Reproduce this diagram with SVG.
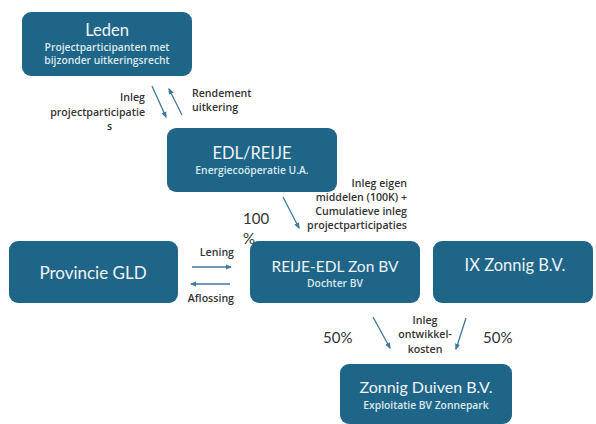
<svg xmlns="http://www.w3.org/2000/svg" width="596" height="424" viewBox="0 0 596 424">
<defs>
<marker id="ah" viewBox="0 0 10 10" refX="8" refY="5" markerWidth="5" markerHeight="5" orient="auto-start-reverse">
<path d="M0,1 L10,5 L0,9 z" fill="#3f7898"/>
</marker>
<style>
.box{fill:#1f6587;}
.t{font-family:"Lato","Liberation Sans",sans-serif;fill:#eef3f6;text-anchor:middle;}
.s{font-family:"Open Sans","Liberation Sans",sans-serif;fill:#dce8ef;text-anchor:middle;font-weight:600;font-size:10.3px;}
.l{font-family:"Open Sans","Liberation Sans",sans-serif;fill:#333;font-weight:600;font-size:10.6px;}
.p{font-family:"Lato","Liberation Sans",sans-serif;fill:#333;font-size:15px;}
.c{stroke:#3f7898;stroke-width:1.3;fill:none;marker-end:url(#ah);}
</style>
</defs>
<rect width="596" height="424" fill="#ffffff"/>
<g id="leden">
<rect class="box" x="22" y="12" width="170" height="64" rx="9"/>
<text class="t" x="107" y="36" font-size="16.5">Leden</text>
<text class="s" x="107" y="51">Projectparticipanten met</text>
<text class="s" x="107" y="64">bijzonder uitkeringsrecht</text>
</g>
<g id="edl">
<rect class="box" x="167" y="128" width="170" height="64" rx="9"/>
<text class="t" x="252" y="159" font-size="16.5">EDL/REIJE</text>
<text class="s" x="252" y="174">Energiecoöperatie U.A.</text>
</g>
<g id="provincie">
<rect class="box" x="9" y="241" width="169" height="62" rx="9"/>
<text class="t" x="93" y="279" font-size="17">Provincie GLD</text>
</g>
<g id="reije">
<rect class="box" x="250" y="241" width="170" height="62" rx="9"/>
<text class="t" x="335" y="272" font-size="15.5">REIJE-EDL Zon BV</text>
<text class="s" x="335" y="287">Dochter BV</text>
</g>
<g id="ix">
<rect class="box" x="433" y="241" width="160" height="62" rx="9"/>
<text class="t" x="515" y="271" font-size="16.5">IX Zonnig B.V.</text>
</g>
<g id="zonnig">
<rect class="box" x="340" y="364" width="172" height="60" rx="9"/>
<text class="t" x="426" y="393" font-size="16">Zonnig Duiven B.V.</text>
<text class="s" x="426" y="409">Exploitatie BV Zonnepark</text>
</g>
<g id="connectors">
<line class="c" x1="152" y1="86" x2="166" y2="117"/>
<line class="c" x1="182" y1="115" x2="169" y2="89"/>
<line class="c" x1="283" y1="197" x2="299" y2="228"/>
<line class="c" x1="192" y1="267" x2="231" y2="267"/>
<line class="c" x1="230" y1="284" x2="191" y2="284"/>
<line class="c" x1="373" y1="317" x2="390" y2="348"/>
<line class="c" x1="466" y1="318" x2="456" y2="349"/>
</g>
<g id="labels">
<text class="l" x="145" y="101" text-anchor="end">Inleg</text>
<text class="l" x="145" y="116" text-anchor="end">projectparticipatie</text>
<text class="l" x="107" y="130">s</text>
<text class="l" x="192" y="97">Rendement</text>
<text class="l" x="192" y="111">uitkering</text>
<text class="l" x="407" y="187" text-anchor="end">Inleg eigen</text>
<text class="l" x="407" y="201" text-anchor="end">middelen (100K) +</text>
<text class="l" x="407" y="215" text-anchor="end">Cumulatieve inleg</text>
<text class="l" x="407" y="229" text-anchor="end">projectparticipaties</text>
<text class="p" x="243" y="224">100</text>
<text class="p" x="243" y="244">%</text>
<text class="l" x="234" y="256" text-anchor="end">Lening</text>
<text class="l" x="234" y="302" text-anchor="end">Aflossing</text>
<text class="l" x="425" y="324" text-anchor="middle">Inleg</text>
<text class="l" x="425" y="338" text-anchor="middle">ontwikkel-</text>
<text class="l" x="425" y="353" text-anchor="middle">kosten</text>
<text class="p" x="323" y="343">50%</text>
<text class="p" x="483" y="343">50%</text>
</g>
</svg>
